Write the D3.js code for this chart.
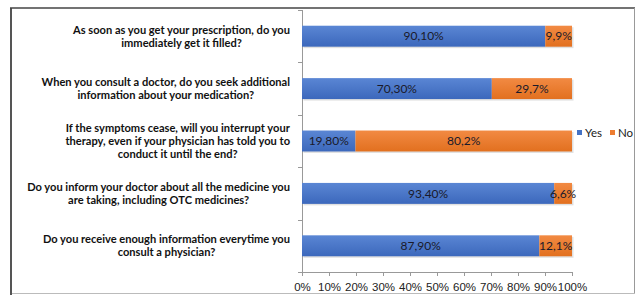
<!DOCTYPE html>
<html>
<head>
<meta charset="utf-8">
<script src="https://cdn.jsdelivr.net/npm/d3@7"></script>
<style>
  html, body { margin: 0; padding: 0; background: #fff; }
  svg { display: block; font-family: Lato, 'Open Sans', sans-serif; }
</style>
</head>
<body>
<div id="chart"></div>
<script>
// Survey answers, top to bottom
const questions = [
  ['As soon as you get your prescription, do you', 'immediately get it filled?'],
  ['When you consult a doctor, do you seek additional', 'information about your medication?'],
  ['If the symptoms cease, will you interrupt your', 'therapy, even if your physician has told you to', 'conduct it until the end?'],
  ['Do you inform your doctor about all the medicine you', 'are taking, including OTC medicines?'],
  ['Do you receive enough information everytime you', 'consult a physician?']
];
const yesValues = [90.1, 70.3, 19.8, 93.4, 87.9];
const noValues = [9.9, 29.7, 80.2, 6.6, 12.1];
const yesLabels = ['90,10%', '70,30%', '19,80%', '93,40%', '87,90%'];
const noLabels = ['9,9%', '29,7%', '80,2%', '6,6%', '12,1%'];
const xTicks = [0, 10, 20, 30, 40, 50, 60, 70, 80, 90, 100];
const seriesNames = ['Yes', 'No'];
const seriesColors = ['#4472C4', '#ED7D31'];

(function () {
  'use strict';
  const W = 640, H = 295;
  const plot = { left: 302, right: 572, top: 10, bottom: 272 };

  const svg = d3.select('#chart').append('svg').attr('width', W).attr('height', H);

  // gradients that mimic the old Excel bar shading
  const defs = svg.append('defs');
  const shades = [['#5A86D4', '#3C68BC'], ['#F28A43', '#E2701F']];
  shades.forEach((s, i) => {
    const g = defs.append('linearGradient').attr('id', 'grad' + i)
      .attr('x1', 0).attr('y1', 0).attr('x2', 0).attr('y2', 1);
    g.append('stop').attr('offset', '0%').attr('stop-color', s[0]);
    g.append('stop').attr('offset', '100%').attr('stop-color', s[1]);
  });

  // outer frame
  svg.append('line').attr('x1', 11).attr('x2', 11).attr('y1', 8).attr('y2', 295)
    .attr('stroke', '#555').attr('stroke-width', 2);
  svg.append('line').attr('x1', 10).attr('x2', 635).attr('y1', 8).attr('y2', 8)
    .attr('stroke', '#444').attr('stroke-width', 1.5);
  svg.append('line').attr('x1', 634.5).attr('x2', 634.5).attr('y1', 8).attr('y2', 293)
    .attr('stroke', '#999').attr('stroke-width', 1);
  svg.append('line').attr('x1', 12).attr('x2', 635).attr('y1', 293.5).attr('y2', 293.5)
    .attr('stroke', '#bbb').attr('stroke-width', 1);

  const x = d3.scaleLinear().domain([0, 100]).range([plot.left, plot.right]);
  const y = d3.scaleBand().domain(d3.range(questions.length))
    .range([plot.top, plot.bottom]).paddingInner(0.6).paddingOuter(0.3);

  // x axis
  const xAxis = svg.append('g').attr('transform', `translate(0,${plot.bottom})`)
    .call(d3.axisBottom(x).tickValues(xTicks).tickFormat(d => d + '%').tickSize(4).tickSizeOuter(0));
  xAxis.select('.domain').attr('stroke', '#999');
  xAxis.selectAll('.tick line').attr('stroke', '#999');
  xAxis.selectAll('text').attr('fill', '#222').style('font-size', '11.5px').attr('dy', '1em');

  // y axis line with category separators
  svg.append('line').attr('x1', plot.left + 0.5).attr('x2', plot.left + 0.5)
    .attr('y1', plot.top).attr('y2', plot.bottom).attr('stroke', '#999');
  const step = y.step();
  const sepY = d3.range(questions.length + 1).map(i => plot.top + i * (plot.bottom - plot.top) / questions.length);
  svg.selectAll('.sep').data(sepY).enter().append('line')
    .attr('x1', plot.left - 4).attr('x2', plot.left)
    .attr('y1', d => Math.round(d) + 0.5).attr('y2', d => Math.round(d) + 0.5)
    .attr('stroke', '#999');

  // bars
  const rows = yesValues.map((v, i) => ({ i, yes: v, no: noValues[i] }));
  const g = svg.append('g');
  rows.forEach(r => {
    const segs = [
      { x0: 0, x1: r.yes, s: 0, label: yesLabels[r.i] },
      { x0: r.yes, x1: r.yes + r.no, s: 1, label: noLabels[r.i] }
    ];
    segs.forEach(sg => {
      // soft shadow
      g.append('rect').attr('x', x(sg.x0) + 1.5).attr('y', y(r.i) + 1.5)
        .attr('width', x(sg.x1) - x(sg.x0)).attr('height', y.bandwidth())
        .attr('fill', '#000').attr('opacity', 0.12);
      g.append('rect').attr('x', x(sg.x0)).attr('y', y(r.i))
        .attr('width', x(sg.x1) - x(sg.x0)).attr('height', y.bandwidth())
        .attr('fill', `url(#grad${sg.s})`);
      g.append('text').attr('x', (x(sg.x0) + x(sg.x1)) / 2)
        .attr('y', y(r.i) + y.bandwidth() / 2).attr('dy', '0.35em')
        .attr('text-anchor', 'middle').style('font-size', '12px').attr('fill', '#1a1a2a')
        .text(sg.label);
    });
  });

  // category labels
  questions.forEach((lines, i) => {
    const cy = y(i) + y.bandwidth() / 2;
    const lh = 13;
    const t = svg.append('text').attr('text-anchor', 'middle')
      .style('font-size', '11.1px').style('font-weight', 'bold').attr('fill', '#111');
    lines.forEach((ln, k) => {
      t.append('tspan').attr('x', 0).attr('y', cy + (k - (lines.length - 1) / 2) * lh).attr('dy', '0.35em').text(ln);
    });
    // right-align block: measure widest line, centre lines within it
    const widths = t.selectAll('tspan').nodes().map(n => n.getComputedTextLength());
    const maxW = d3.max(widths);
    t.attr('transform', `translate(${290 - maxW / 2},0)`);
  });

  // legend
  const leg = svg.append('g').attr('transform', 'translate(577,133)');
  const legX = [0, 33];
  seriesNames.forEach((n, i) => {
    leg.append('rect').attr('x', legX[i]).attr('y', -3).attr('width', 5).attr('height', 5)
      .attr('fill', seriesColors[i]);
    leg.append('text').attr('x', legX[i] + 8).attr('y', 0).attr('dy', '0.35em')
      .style('font-size', '11.5px').attr('fill', '#222').text(n);
  });
})();
</script>
</body>
</html>
